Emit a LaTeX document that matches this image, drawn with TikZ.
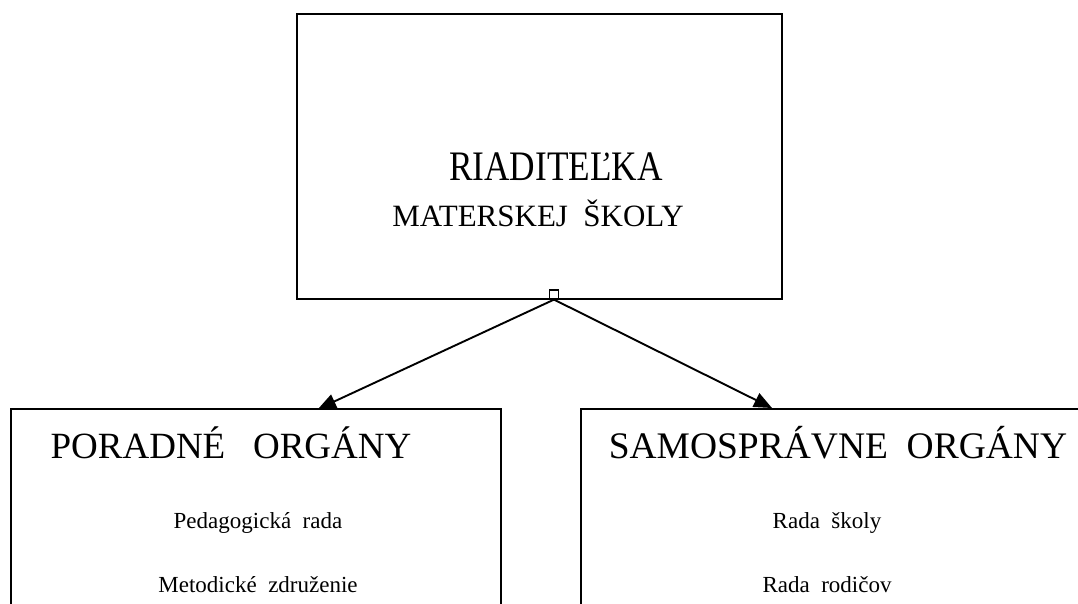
\documentclass[tikz,border=0pt]{standalone}
\usepackage{fontspec}
\setmainfont{Liberation Serif}
\usetikzlibrary{arrows.meta}
\begin{document}
\begin{tikzpicture}[x=1pt,y=-1pt,
  box/.style={draw,line width=1.8pt,rectangle,inner sep=0pt},
  conn/.style={line width=1.9pt,-{Triangle[length=18pt,width=15pt]}},
  txt/.style={inner sep=0pt,anchor=base}]
\clip (0,0) rectangle (1078,603);
\fill[white] (0,0) rectangle (1078,603);
% boxes
\node[box,minimum width=485pt,minimum height=285pt] (top) at (539.5,156.5) {};
\node[box,minimum width=490pt,minimum height=260pt] (left) at (256,539) {};
\node[box,minimum width=520pt,minimum height=260pt] (right) at (841,539) {};
\node[draw,line width=1.2pt,minimum width=9pt,minimum height=9pt,inner sep=0pt] (sq) at (554,294.5) {};
% texts
\node[txt,font=\fontsize{42}{42}\selectfont,xscale=0.84] (t1) at (556,180) {RIADITEĽKA};
\node[txt,font=\fontsize{31}{31}\selectfont] (t2) at (538,226) {MATERSKEJ\ \ ŠKOLY};
\node[txt,font=\fontsize{37}{37}\selectfont] (l1) at (231,458) {PORADNÉ\ \ \ ORGÁNY};
\node[txt,font=\fontsize{23}{23}\selectfont] (l2) at (258,528) {Pedagogická\ \ rada};
\node[txt,font=\fontsize{23}{23}\selectfont] (l3) at (258,592) {Metodické\ \ združenie};
\node[txt,font=\fontsize{37.5}{37.5}\selectfont] (r1) at (838,458) {SAMOSPRÁVNE\ \ ORGÁNY};
\node[txt,font=\fontsize{23}{23}\selectfont] (r2) at (827,528) {Rada\ \ školy};
\node[txt,font=\fontsize{23}{23}\selectfont] (r3) at (827,592) {Rada\ \ rodičov};
% connectors
\coordinate (la) at (318,409);
\coordinate (ra) at (772,408);
\draw[conn] (sq.south) -- (la);
\draw[conn] (sq.south) -- (ra);
\end{tikzpicture}
\end{document}
